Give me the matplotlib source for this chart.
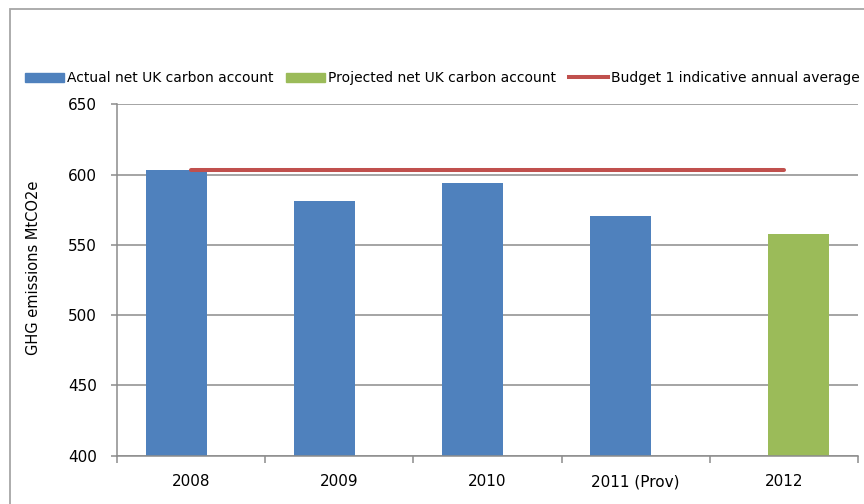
import matplotlib
matplotlib.use("Agg")
import matplotlib.pyplot as plt
import numpy as np
from matplotlib.patches import Rectangle
from matplotlib.lines import Line2D

# UK net carbon account, MtCO2e
years = ["2008", "2009", "2010", "2011 (Prov)", "2012"]
actual = [603, 581, 594, 570.5, np.nan]
projected = [np.nan, np.nan, np.nan, np.nan, 558]
budget_avg = [603.6, 603.6, 603.6, 603.6, 603.6]

blue = "#4F81BD"
green = "#9BBB59"
red = "#C0504D"
grey = "#8C8C8C"

plt.rcParams["font.family"] = "DejaVu Sans"

fig = plt.figure(figsize=(8.64, 5.04), dpi=100)
ax = fig.add_axes([117 / 864, 1 - 455.7 / 504, (858 - 117) / 864, (455.7 - 104.3) / 504])

x = np.arange(len(years))
w = 0.41
off = 0.1
ax.bar(x - off, actual, w, color=blue, zorder=2, label="Actual net UK carbon account")
ax.bar(x + off, projected, w, color=green, zorder=2, label="Projected net UK carbon account")
ax.plot(x, budget_avg, color=red, lw=2.9, solid_capstyle="round", zorder=3,
        label="Budget 1 indicative annual average")

ax.set_ylim(400, 650)
ax.set_xlim(-0.5, len(years) - 0.5)
ax.set_yticks(np.arange(400, 651, 50))
ax.yaxis.grid(True, color=grey, lw=1.1, zorder=0)
ax.set_axisbelow(True)

ax.set_xticks(x)
ax.set_xticklabels(years)
ax.set_xticks(np.arange(-0.5, len(years)), minor=True)
ax.tick_params(axis="x", which="major", length=0, pad=13.5, labelsize=11)
ax.tick_params(axis="x", which="minor", length=5, width=1.1, color=grey)
ax.tick_params(axis="y", length=4.3, width=1.1, color=grey, labelsize=11, pad=10)

for s in ["top", "right"]:
    ax.spines[s].set_visible(False)
for s in ["left", "bottom"]:
    ax.spines[s].set_color(grey)
    ax.spines[s].set_linewidth(1.1)

fig.text(34 / 864, 1 - 268 / 504, "GHG emissions MtCO2e", rotation=90,
         ha="center", va="center", fontsize=10.5)

# chart area border
fig.patches.append(Rectangle((10 / 864, -0.05), 1.0, 1.05 - 9 / 504, transform=fig.transFigure,
                             fill=False, edgecolor="#A6A6A6", lw=1.3))

handles = [Rectangle((0, 0), 1, 1, color=blue), Rectangle((0, 0), 1, 1, color=green),
           Line2D([0], [0], color=red, lw=2.9)]
labels = ["Actual net UK carbon account", "Projected net UK carbon account",
          "Budget 1 indicative annual average"]
fig.legend(handles, labels, ncol=3, loc="center left", bbox_to_anchor=(25 / 864, 1 - 78 / 504),
           frameon=False, fontsize=10, borderpad=0, borderaxespad=0,
           handlelength=2.8, handleheight=0.6, handletextpad=0.2, columnspacing=0.95)

fig.savefig("out.png", dpi=100)
